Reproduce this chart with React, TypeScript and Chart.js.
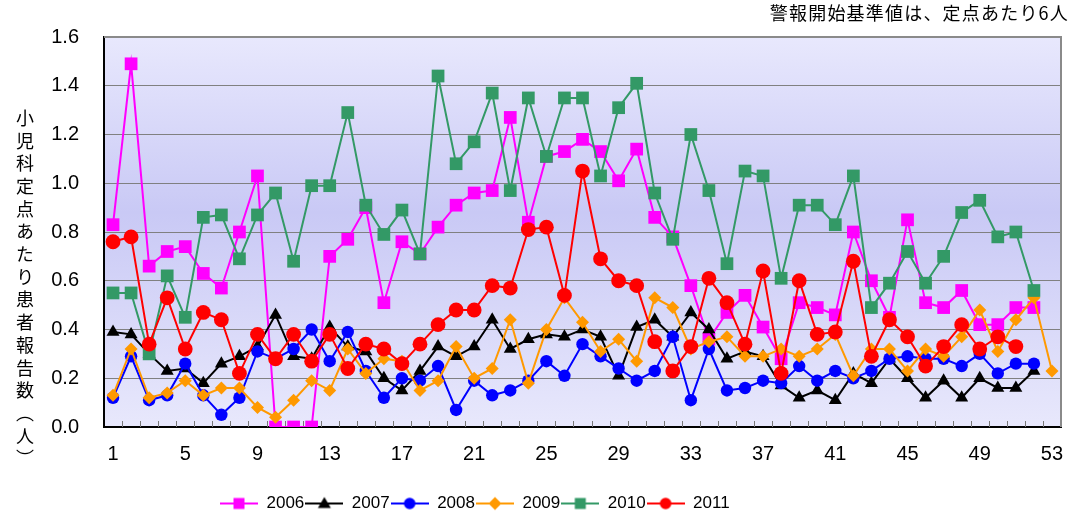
import React, { useEffect, useRef } from 'react';
import { Chart, registerables } from 'chart.js';

Chart.register(...registerables);

const weeks = ['1','2','3','4','5','6','7','8','9','10','11','12','13','14','15','16','17','18','19','20','21','22','23','24','25','26','27','28','29','30','31','32','33','34','35','36','37','38','39','40','41','42','43','44','45','46','47','48','49','50','51','52','53'];

const seriesNames = ['2006', '2007', '2008', '2009', '2010', '2011'];

const values2006 = [0.83,1.49,0.66,0.72,0.74,0.63,0.57,0.80,1.03,0,0,0,0.70,0.77,0.90,0.51,0.76,0.71,0.82,0.91,0.96,0.97,1.27,0.84,1.11,1.13,1.18,1.13,1.01,1.14,0.86,0.78,0.58,0.36,0.47,0.54,0.41,0.28,0.51,0.49,0.46,0.80,0.60,0.45,0.85,0.51,0.49,0.56,0.42,0.42,0.49,0.49];
const values2007 = [0.39,0.38,0.30,0.23,0.24,0.18,0.26,0.29,0.33,0.46,0.29,0.28,0.41,0.33,0.31,0.20,0.15,0.23,0.33,0.29,0.33,0.44,0.32,0.36,0.38,0.37,0.40,0.37,0.21,0.41,0.44,0.37,0.47,0.40,0.28,0.31,0.29,0.17,0.12,0.15,0.11,0.22,0.18,0.28,0.20,0.12,0.19,0.12,0.20,0.16,0.16,0.23];
const values2008 = [0.12,0.29,0.11,0.13,0.26,0.13,0.05,0.12,0.31,0.28,0.32,0.40,0.27,0.39,0.23,0.12,0.20,0.19,0.25,0.07,0.19,0.13,0.15,0.19,0.27,0.21,0.34,0.29,0.24,0.19,0.23,0.37,0.11,0.32,0.15,0.16,0.19,0.18,0.25,0.19,0.23,0.20,0.23,0.28,0.29,0.28,0.28,0.25,0.30,0.22,0.26,0.26];
const values2009 = [0.13,0.32,0.12,0.14,0.19,0.13,0.16,0.16,0.08,0.04,0.11,0.19,0.15,0.32,0.22,0.28,0.27,0.15,0.19,0.33,0.20,0.24,0.44,0.18,0.40,0.53,0.43,0.31,0.36,0.27,0.53,0.49,0.32,0.35,0.37,0.29,0.29,0.32,0.29,0.32,0.38,0.21,0.32,0.32,0.23,0.32,0.29,0.37,0.48,0.31,0.44,0.53,0.23];
const values2010 = [0.55,0.55,0.30,0.62,0.45,0.86,0.87,0.69,0.87,0.96,0.68,0.99,0.99,1.29,0.91,0.79,0.89,0.71,1.44,1.08,1.17,1.37,0.97,1.35,1.11,1.35,1.35,1.03,1.31,1.41,0.96,0.77,1.20,0.97,0.67,1.05,1.03,0.61,0.91,0.91,0.83,1.03,0.49,0.59,0.72,0.59,0.70,0.88,0.93,0.78,0.80,0.56];
const values2011 = [0.76,0.78,0.34,0.53,0.32,0.47,0.44,0.22,0.38,0.28,0.38,0.27,0.38,0.24,0.34,0.32,0.26,0.34,0.42,0.48,0.48,0.58,0.57,0.81,0.82,0.54,1.05,0.69,0.60,0.58,0.35,0.23,0.33,0.61,0.51,0.34,0.64,0.22,0.60,0.38,0.39,0.68,0.29,0.44,0.37,0.25,0.33,0.42,0.32,0.37,0.33];

const seriesValues = [values2006, values2007, values2008, values2009, values2010, values2011];

const yTicksMin = 0;
const yTicksMax = 1.6;
const yTickStep = 0.2;

const noteText = '警報開始基準値は、定点あたり6人';
const yTitleText = '小児科定点あたり患者報告数（人）';

// styles (kept separate from data)
const seriesColors = ['#FF00FF', '#000000', '#0000FF', '#FF9900', '#339966', '#FF0000'];
const seriesPointStyles = ['rect', 'triangle', 'circle', 'rectRot', 'rect', 'circle'];
const seriesPointRadius = [9, 7.5, 6.2, 6.5, 9, 7.4];

const fontNum = '"Liberation Sans", Arial, "DejaVu Sans", sans-serif';
const fontJP = '"Noto Sans CJK JP", "Noto Sans CJK SC", sans-serif';

function makeLegendIcon(color: string, style: string): HTMLCanvasElement {
  const c = document.createElement('canvas');
  c.width = 38;
  c.height = 18;
  const g = c.getContext('2d') as CanvasRenderingContext2D;
  g.strokeStyle = color;
  g.lineWidth = 2;
  g.beginPath();
  g.moveTo(0, 9);
  g.lineTo(38, 9);
  g.stroke();
  g.fillStyle = color;
  const cx = 19, cy = 9;
  g.beginPath();
  if (style === 'rect') {
    g.rect(cx - 5.5, cy - 5.5, 11, 11);
  } else if (style === 'triangle') {
    g.moveTo(cx, cy - 6.5);
    g.lineTo(cx + 6.5, cy + 4.5);
    g.lineTo(cx - 6.5, cy + 4.5);
    g.closePath();
  } else if (style === 'rectRot') {
    g.moveTo(cx, cy - 6.5);
    g.lineTo(cx + 6.5, cy);
    g.lineTo(cx, cy + 6.5);
    g.lineTo(cx - 6.5, cy);
    g.closePath();
  } else {
    g.arc(cx, cy, 5.8, 0, Math.PI * 2);
  }
  g.fill();
  return c;
}

const plotDecor = {
  id: 'plotDecor',
  beforeDraw(chart: any) {
    const { ctx, chartArea: a } = chart;
    ctx.save();
    ctx.fillStyle = '#ffffff';
    ctx.fillRect(0, 0, chart.width, chart.height);
    const g = ctx.createLinearGradient(0, a.top, 0, a.bottom);
    g.addColorStop(0, '#E8E8FD');
    g.addColorStop(0.45, '#C9C9F5');
    g.addColorStop(1, '#E8E8FC');
    ctx.fillStyle = g;
    ctx.fillRect(a.left, a.top, a.right - a.left, a.bottom - a.top);
    ctx.restore();
  },
  beforeDatasetsDraw(chart: any) {
    const { ctx, chartArea: a } = chart;
    const x = chart.scales.x;
    ctx.save();
    ctx.strokeStyle = '#8a8a8a';
    ctx.lineWidth = 2;
    ctx.beginPath();
    ctx.moveTo(a.left, a.top);
    ctx.lineTo(a.right, a.top);
    ctx.lineTo(a.right, a.bottom);
    ctx.stroke();
    const half = (x.getPixelForValue(1) - x.getPixelForValue(0)) / 2;
    ctx.lineWidth = 1;
    ctx.strokeStyle = '#777777';
    ctx.beginPath();
    for (let i = 0; i < weeks.length - 1; i++) {
      const px = Math.round(x.getPixelForValue(i) + half) + 0.5;
      ctx.moveTo(px, a.bottom);
      ctx.lineTo(px, a.bottom - 6);
    }
    ctx.stroke();
    ctx.restore();
  },
};

const legendShift = {
  id: 'legendShift',
  afterLayout(chart: any) {
    if (chart.legend) {
      chart.legend.left = 219;
    }
  },
};

export default function App() {
  const ref = useRef<HTMLCanvasElement | null>(null);

  useEffect(() => {
    if (!ref.current) return;
    const icons = seriesNames.map((_, i) => makeLegendIcon(seriesColors[i], seriesPointStyles[i]));
    const datasets = seriesNames.map((name, i) => ({
      label: name,
      data: seriesValues[i],
      borderColor: seriesColors[i],
      backgroundColor: seriesColors[i],
      pointBackgroundColor: seriesColors[i],
      pointBorderColor: seriesColors[i],
      pointBorderWidth: 0,
      pointStyle: seriesPointStyles[i],
      pointRadius: seriesPointRadius[i],
      borderWidth: 2,
      tension: 0,
      fill: false,
      order: seriesNames.length - i,
    }));

    const chart = new Chart(ref.current, {
      type: 'line',
      data: { labels: weeks, datasets: datasets as any },
      plugins: [plotDecor, legendShift],
      options: {
        responsive: false,
        animation: false,
        devicePixelRatio: 1,
        layout: { padding: { top: 34, right: 23, left: 0, bottom: -5 } },
        plugins: {
          legend: {
            display: true,
            position: 'bottom',
            align: 'start',
            labels: {
              usePointStyle: true,
              pointStyleWidth: 38,
              padding: 1,
              color: '#000',
              font: { family: fontNum, size: 17 },
              generateLabels: (ch: any) =>
                ch.data.datasets.map((ds: any, i: number) => ({
                  text: ds.label,
                  fillStyle: ds.borderColor,
                  strokeStyle: ds.borderColor,
                  lineWidth: 0,
                  pointStyle: icons[i],
                  hidden: false,
                  datasetIndex: i,
                  fontColor: '#000',
                })),
            },
          },
          title: { display: false },
          tooltip: { enabled: false },
        },
        scales: {
          x: {
            type: 'category',
            offset: true,
            grid: { display: false },
            border: { display: true, color: '#000', width: 2 },
            ticks: {
              autoSkip: false,
              maxRotation: 0,
              minRotation: 0,
              padding: 7,
              color: '#000',
              font: { family: fontNum, size: 20 },
              callback: (_v: any, idx: number) => (idx % 4 === 0 ? weeks[idx] : ''),
            },
            afterFit: (s: any) => {
              s.height = 67;
            },
          },
          y: {
            min: yTicksMin,
            max: yTicksMax,
            grid: { color: '#808080', lineWidth: 1, drawTicks: false },
            border: { display: true, color: '#000', width: 2 },
            ticks: {
              stepSize: yTickStep,
              padding: 25,
              color: '#000',
              font: { family: fontNum, size: 20 },
              callback: (v: any) => Number(v).toFixed(1),
            },
            afterFit: (s: any) => {
              s.width = 104;
            },
          },
        },
      } as any,
    });
    return () => chart.destroy();
  }, []);

  return (
    <div style={{ position: 'fixed', left: 0, top: 0, width: 1084, height: 517, background: '#fff', overflow: 'hidden' }}>
      <canvas ref={ref} width={1084} height={517} style={{ position: 'absolute', left: 0, top: 0, width: 1084, height: 517 }} />
      <div
        style={{
          position: 'absolute',
          right: 15,
          top: 2,
          fontFamily: fontJP,
          fontSize: 18,
          lineHeight: '20px',
          letterSpacing: '1.2px',
          whiteSpace: 'nowrap',
          color: '#000',
        }}
      >
        {noteText}
      </div>
      <div
        style={{
          position: 'absolute',
          left: 15,
          top: 109,
          writingMode: 'vertical-rl',
          fontFamily: fontJP,
          fontSize: 18,
          lineHeight: '20px',
          letterSpacing: '4.7px',
          whiteSpace: 'nowrap',
          color: '#000',
        }}
      >
        {yTitleText}
      </div>
    </div>
  );
}
